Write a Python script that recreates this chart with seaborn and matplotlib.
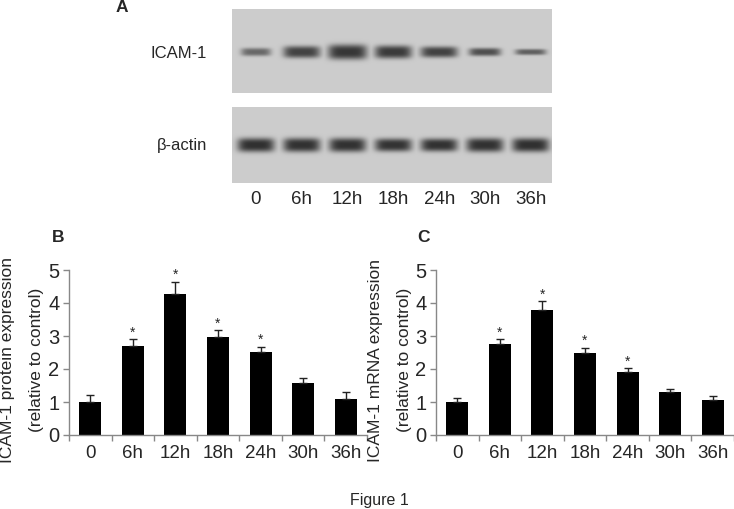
import numpy as np
import pandas as pd
import matplotlib
matplotlib.use("Agg")
import matplotlib.pyplot as plt
import seaborn as sns

# ---------------- data ----------------
lanes = ["0", "6h", "12h", "18h", "24h", "30h", "36h"]

# Western blot band appearance (darkness 0-1, band height / width in px)
icam_band_darkness = [0.62, 0.86, 0.93, 0.91, 0.86, 0.78, 0.68]
icam_band_height = [8, 12, 15, 13, 11, 8, 6]
icam_band_width = [30, 37, 39, 37, 37, 32, 31]
actin_band_darkness = [0.97, 0.96, 0.96, 0.95, 0.96, 0.96, 0.97]
actin_band_height = [14, 14, 14, 13, 13, 14, 14]
actin_band_width = [37, 37, 37, 37, 37, 37, 37]

# Panel B: ICAM-1 protein expression (relative to control)
protein_mean = [1.00, 2.70, 4.27, 2.98, 2.51, 1.59, 1.09]
protein_err = [0.21, 0.20, 0.38, 0.20, 0.17, 0.13, 0.20]
protein_sig = [False, True, True, True, True, False, False]

# Panel C: ICAM-1 mRNA expression (relative to control)
mrna_mean = [1.00, 2.75, 3.79, 2.47, 1.90, 1.31, 1.06]
mrna_err = [0.12, 0.15, 0.27, 0.18, 0.12, 0.07, 0.13]
mrna_sig = [False, True, True, True, True, False, False]

yticks = [0, 1, 2, 3, 4, 5]

# ---------------- style ----------------
sns.set_style("ticks")
plt.rcParams["font.family"] = ["Liberation Sans", "DejaVu Sans"]

W, H = 734, 509
fig = plt.figure(figsize=(W / 100, H / 100), dpi=100)


def rect(x0, y0, x1, y1):
    return [x0 / W, 1 - y1 / H, (x1 - x0) / W, (y1 - y0) / H]


# ---------------- panel A: blot ----------------
LANE_PX = 45.8


def draw_blot(ax, darkness, heights, widths, height_px, band_y):
    x0, x1 = -0.52, 6.46
    xs = np.linspace(x0, x1, 640)
    ys = np.linspace(0, height_px, int(height_px * 2))
    X, Y = np.meshgrid(xs, ys)
    dark = np.zeros_like(X)
    for i, (d, h, w) in enumerate(zip(darkness, heights, widths)):
        hw = (w / 2) / LANE_PX
        r = np.abs((X - i) / hw) ** 5 + np.abs((Y - band_y) / (h / 2)) ** 3
        dark = np.maximum(dark, d * np.exp(-r))
    bg, core = 0.80, 0.17
    img = bg - (bg - core) * dark
    ax.imshow(img, cmap="gray", vmin=0, vmax=1, aspect="auto",
              extent=[x0, x1, height_px, 0], interpolation="bilinear")
    ax.set_xlim(x0, x1)
    ax.set_ylim(height_px, 0)
    for s in ax.spines.values():
        s.set_visible(False)
    ax.set_yticks([])


ax_u = fig.add_axes(rect(232, 9, 552, 93))
draw_blot(ax_u, icam_band_darkness, icam_band_height, icam_band_width, 84, 43)
ax_u.set_xticks([])

ax_l = fig.add_axes(rect(232, 107, 552, 183))
draw_blot(ax_l, actin_band_darkness, actin_band_height, actin_band_width, 76, 38)
ax_l.set_xticks(range(len(lanes)))
ax_l.set_xticklabels(lanes, fontsize=13.5)
ax_l.tick_params(axis="x", length=0, pad=6)

fig.text(207 / W, 1 - 53 / H, "ICAM-1", ha="right", va="center", fontsize=12)
fig.text(207 / W, 1 - 145 / H, "β-actin", ha="right", va="center", fontsize=12)

# ---------------- panels B & C ----------------


def bar_panel(ax, mean, err, sig):
    df = pd.DataFrame({"time": lanes, "value": mean})
    sns.barplot(data=df, x="time", y="value", color="black", width=0.52,
                errorbar=None, saturation=1, ax=ax)
    for p in ax.patches:
        p.set_edgecolor("none")
    xs = np.arange(len(lanes))
    ax.errorbar(xs, mean, yerr=[np.zeros(len(mean)), err], fmt="none",
                ecolor="#222222", elinewidth=1, capsize=3, capthick=1)
    for i, (m, e, s) in enumerate(zip(mean, err, sig)):
        if s:
            ax.text(i, m + e + 0.08, "*", ha="center", va="baseline",
                    fontsize=10)
    ax.set_xlim(-0.5, len(lanes) - 0.5)
    ax.set_ylim(0, 5)
    ax.set_yticks(yticks)
    ax.set_yticklabels([str(t) for t in yticks], fontsize=14.5)
    ax.set_xticks(xs)
    ax.set_xticklabels(lanes, fontsize=13.5)
    ax.set_xticks(np.arange(-0.5, len(lanes)), minor=True)
    ax.tick_params(axis="x", which="major", length=0, pad=7)
    ax.tick_params(axis="x", which="minor", length=4, width=1, color="#888888")
    ax.tick_params(axis="y", length=4, width=1, color="#888888", pad=3)
    ax.set_xlabel("")
    ax.set_ylabel("")
    sns.despine(ax=ax)
    for s in ["left", "bottom"]:
        ax.spines[s].set_color("#888888")
        ax.spines[s].set_linewidth(1)


axB = fig.add_axes(rect(69, 270, 367, 435))
bar_panel(axB, protein_mean, protein_err, protein_sig)
axC = fig.add_axes(rect(436, 270, 734, 435))
bar_panel(axC, mrna_mean, mrna_err, mrna_sig)

# y labels (two lines each)
fig.text(8 / W, 1 - 360 / H, "ICAM-1 protein expression", rotation=90,
         ha="center", va="center", fontsize=12.5)
fig.text(37 / W, 1 - 360 / H, "(relative to control)", rotation=90,
         ha="center", va="center", fontsize=12.5)
fig.text(375 / W, 1 - 360 / H, "ICAM-1 mRNA expression", rotation=90,
         ha="center", va="center", fontsize=12.5)
fig.text(404 / W, 1 - 360 / H, "(relative to control)", rotation=90,
         ha="center", va="center", fontsize=12.5)

# panel letters
fig.text(122 / W, 1 - 8 / H, "A", ha="center", va="center",
         fontsize=12.5, fontweight="bold")
fig.text(58 / W, 1 - 237 / H, "B", ha="center", va="center",
         fontsize=12.5, fontweight="bold")
fig.text(423 / W, 1 - 237 / H, "C", ha="center", va="center",
         fontsize=12.5, fontweight="bold")

fig.text(379 / W, 1 - 500 / H, "Figure 1", ha="center", va="center",
         fontsize=11.5)

fig.savefig("out.png", dpi=100)
